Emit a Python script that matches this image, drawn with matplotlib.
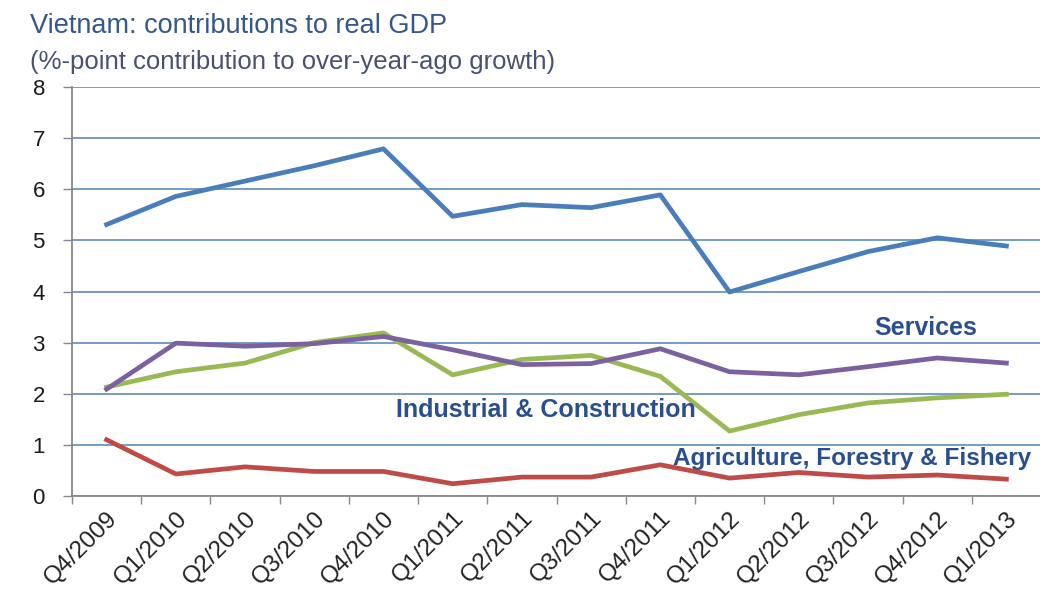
#line chart - Vietnam GDP contributions by sector
import numpy as np
import matplotlib.pyplot as plt

quarters = ['Q4/2009', 'Q1/2010', 'Q2/2010', 'Q3/2010', 'Q4/2010', 'Q1/2011', 'Q2/2011',
            'Q3/2011', 'Q4/2011', 'Q1/2012', 'Q2/2012', 'Q3/2012', 'Q4/2012', 'Q1/2013']
services = [5.31, 5.86, 6.16, 6.46, 6.79, 5.47, 5.70, 5.64, 5.89, 3.99, 4.39, 4.78, 5.05, 4.89]
purple_series = [2.09, 2.99, 2.93, 2.98, 3.12, 2.86, 2.57, 2.59, 2.88, 2.43, 2.37, 2.53, 2.70, 2.60]
green_series = [2.13, 2.43, 2.60, 3.00, 3.19, 2.37, 2.67, 2.75, 2.34, 1.27, 1.59, 1.82, 1.92, 1.99]
agriculture = [1.10, 0.43, 0.57, 0.48, 0.48, 0.24, 0.37, 0.37, 0.61, 0.35, 0.46, 0.37, 0.41, 0.33]
y_ticks = [0, 1, 2, 3, 4, 5, 6, 7, 8]

plt.rcParams['font.family'] = ['Liberation Sans', 'DejaVu Sans']

fig = plt.figure(figsize=(10.4, 6.07), dpi=100)
W, H = 1040, 607
ax = fig.add_axes([72/W, 1 - 496/H, (1041-72)/W, (496-87)/H])

x = np.arange(len(quarters))
ax.plot(x, services, color='#4A7EBB', lw=3.4, zorder=3)
ax.plot(x, green_series, color='#98B954', lw=3.4, zorder=3)
ax.plot(x, purple_series, color='#7D60A0', lw=3.4, zorder=4)
ax.plot(x, agriculture, color='#BE4B48', lw=3.4, zorder=3)

ax.set_xlim(-0.5, len(quarters) - 0.5)
ax.set_ylim(0, 8)
ax.set_yticks(y_ticks)
ax.set_yticklabels([str(v) for v in y_ticks], fontsize=16, color='#1A1A1A')
ax.yaxis.grid(True, color='#4F81BD', lw=1.1)
ax.set_axisbelow(True)

# category ticks sit on the boundaries, labels at the centres
ax.set_xticks(np.arange(len(quarters) + 1) - 0.5)
ax.set_xticklabels([])
ax.set_xticks(x, minor=True)
ax.set_xticklabels(quarters, minor=True, rotation=45, ha='right', rotation_mode='anchor',
                   fontsize=17.5, color='#222222')
ax.tick_params(axis='x', which='minor', length=0, pad=8)
ax.tick_params(axis='x', which='major', length=6, color='#888888', width=1)
ax.tick_params(axis='y', length=6.5, color='#888888', width=1, pad=13)

ax.spines[['right', 'top']].set_visible(False)
ax.spines[['left', 'bottom']].set_color('#888888')
ax.spines[['left', 'bottom']].set_linewidth(1.3)

lab_col = '#2A4F8F'
ax.text(926/W, 1 - 328/H, 'Services', transform=fig.transFigure, fontsize=18,
        fontweight='bold', color=lab_col, ha='center', va='center')
ax.text(396/W, 1 - 410/H, 'Industrial & Construction', transform=fig.transFigure, fontsize=18,
        fontweight='bold', color=lab_col, ha='left', va='center')
ax.text(673/W, 1 - 458/H, 'Agriculture, Forestry & Fishery', transform=fig.transFigure, fontsize=17.5,
        fontweight='bold', color=lab_col, ha='left', va='center', clip_on=False)

fig.text(30/W, 1 - 33/H, 'Vietnam: contributions to real GDP', fontsize=19.5,
         color='#35578A', ha='left', va='baseline')
fig.text(30/W, 1 - 69/H, '(%-point contribution to over-year-ago growth)', fontsize=18.5,
         color='#465270', ha='left', va='baseline')

plt.savefig('out.png', dpi=100)
